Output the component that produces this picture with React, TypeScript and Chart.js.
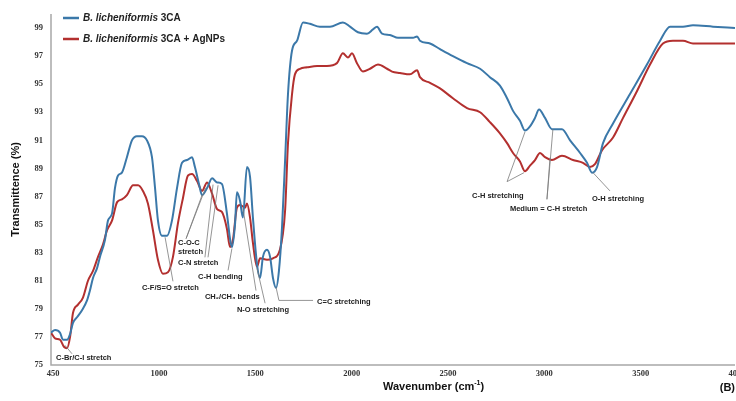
import { useEffect, useRef } from "react";
import { Chart, registerables } from "chart.js";

Chart.register(...registerables);

const seriesNames = ["B. licheniformis 3CA", "B. licheniformis 3CA + AgNPs"];
const seriesColors = ["#3b78a9", "#b3302f"];

const blueWavenumbers = [450, 471, 497, 512, 533, 549, 564, 585, 611, 637, 652, 668, 689, 704, 730, 746, 767, 782, 798, 818, 844, 870, 896, 922, 948, 974, 990, 1005, 1026, 1052, 1078, 1104, 1130, 1156, 1182, 1197, 1218, 1234, 1260, 1286, 1312, 1337, 1363, 1379, 1389, 1405, 1415, 1431, 1446, 1467, 1483, 1498, 1519, 1535, 1550, 1571, 1587, 1602, 1618, 1633, 1649, 1665, 1680, 1701, 1727, 1758, 1794, 1846, 1898, 1965, 2002, 2043, 2090, 2121, 2142, 2168, 2209, 2251, 2298, 2329, 2350, 2365, 2417, 2469, 2536, 2609, 2677, 2728, 2780, 2817, 2848, 2884, 2910, 2936, 2962, 2983, 3014, 3050, 3102, 3144, 3196, 3232, 3258, 3284, 3315, 3367, 3455, 3543, 3611, 3663, 3730, 3782, 3886, 4000];
const blueValues = [77.3, 77.5, 77.3, 76.8, 76.8, 77.2, 78.0, 78.4, 78.9, 79.6, 80.3, 81.2, 81.9, 82.7, 83.9, 85.3, 85.8, 87.6, 88.5, 88.7, 89.8, 91.0, 91.3, 91.3, 91.0, 89.8, 87.6, 85.3, 84.2, 84.2, 85.3, 87.6, 89.4, 89.6, 89.8, 89.1, 87.9, 87.1, 87.6, 88.3, 88.0, 87.9, 85.8, 84.0, 83.4, 85.0, 87.3, 86.7, 85.5, 89.1, 88.4, 85.5, 82.2, 81.2, 82.7, 83.2, 82.7, 81.2, 80.5, 81.7, 84.8, 89.6, 94.3, 97.4, 98.1, 99.4, 99.3, 99.1, 99.1, 99.4, 99.1, 98.7, 98.6, 98.9, 99.1, 98.6, 98.5, 98.3, 98.3, 98.3, 98.4, 98.1, 97.9, 97.5, 97.0, 96.5, 96.1, 95.5, 94.9, 94.0, 93.1, 92.4, 91.7, 92.0, 92.6, 93.2, 92.6, 91.8, 91.8, 91.0, 90.1, 89.4, 88.7, 89.1, 90.8, 92.2, 94.3, 96.4, 98.1, 99.1, 99.1, 99.2, 99.1, 99.0];

const redWavenumbers = [450, 471, 497, 517, 533, 549, 564, 590, 616, 642, 668, 694, 720, 741, 767, 793, 818, 844, 876, 902, 927, 953, 979, 1005, 1031, 1057, 1083, 1109, 1135, 1161, 1182, 1208, 1234, 1260, 1286, 1312, 1337, 1363, 1379, 1394, 1415, 1431, 1457, 1467, 1483, 1498, 1519, 1535, 1571, 1602, 1638, 1665, 1680, 1701, 1716, 1742, 1779, 1831, 1882, 1934, 1965, 1991, 2012, 2038, 2069, 2106, 2147, 2194, 2220, 2261, 2313, 2350, 2365, 2417, 2469, 2536, 2609, 2677, 2728, 2780, 2817, 2848, 2884, 2910, 2936, 2962, 2988, 3014, 3050, 3102, 3159, 3211, 3247, 3273, 3310, 3367, 3419, 3491, 3559, 3626, 3678, 3730, 3782, 3855, 3922, 4000];
const redValues = [77.3, 76.9, 76.8, 76.3, 76.2, 77.0, 78.7, 79.3, 79.8, 81.0, 81.7, 82.7, 83.6, 84.6, 85.3, 86.6, 86.8, 87.1, 87.8, 87.8, 87.4, 86.5, 84.6, 82.5, 81.5, 81.6, 82.7, 85.1, 86.9, 88.5, 88.6, 88.1, 87.4, 88.0, 87.2, 86.1, 85.9, 84.7, 83.4, 83.9, 86.2, 86.4, 86.2, 86.5, 85.5, 83.7, 82.0, 82.6, 82.5, 82.6, 83.2, 86.0, 90.8, 94.3, 95.7, 96.1, 96.2, 96.3, 96.3, 96.5, 97.2, 96.9, 97.2, 96.5, 95.9, 96.1, 96.4, 96.1, 95.9, 95.8, 95.7, 96.0, 95.5, 95.1, 94.7, 94.0, 93.3, 93.0, 92.3, 91.5, 90.8, 90.1, 89.5, 88.8, 89.2, 89.6, 90.1, 89.8, 89.6, 89.9, 89.6, 89.4, 89.1, 89.3, 90.3, 91.2, 92.6, 94.5, 96.4, 97.9, 98.1, 98.1, 97.9, 97.9, 97.9, 97.9];

const xTickLabels = [450, 1000, 1500, 2000, 2500, 3000, 3500, 4000];
const yTickLabels = [75, 77, 79, 81, 83, 85, 87, 89, 91, 93, 95, 97, 99];

const xTitle = "Wavenumber (cm";
const xTitleSup = "-1";
const yTitle = "Transmittence (%)";
const panelLabel = "(B)";

const annotationLabels = [
  "C-Br/C-I stretch",
  "C-F/S=O stretch",
  "C-O-C\nstretch",
  "C-N stretch",
  "C-H bending",
  "CH\u2082/CH\u2083 bends",
  "N-O stretching",
  "C=C stretching",
  "C-H stretching",
  "Medium = C-H stretch",
  "O-H stretching",
];
const annotationAnchors: [number, number][] = [
  [476, 75.5], [922, 80.5], [1109, 83.66], [1109, 82.24], [1213, 81.25], [1249, 79.83],
  [1415, 78.9], [1831, 79.5], [2635, 87.07], [2832, 86.15], [3258, 86.86],
];
const annotationLeaders: [number, number][][][] = [
  [[[559, 75.8], [523, 76.4]]],
  [[[1083, 80.96], [1042, 84.1]]],
  [[[1151, 84.0], [1234, 87.1]], [[1151, 84.0], [1252, 87.6]]],
  [[[1249, 82.67], [1291, 87.85]], [[1265, 82.67], [1317, 87.8]]],
  [[[1369, 81.74], [1389, 83.3]]],
  [[[1514, 80.3], [1446, 86.2]]],
  [[[1561, 79.4], [1519, 81.9]]],
  [[[1618, 80.54], [1633, 79.6], [1810, 79.6]]],
  [[[2817, 88.06], [2910, 91.6]], [[2817, 88.06], [2905, 88.7]]],
  [[[3024, 86.8], [3055, 91.8]], [[3024, 86.8], [3040, 89.77]]],
  [[[3351, 87.4], [3263, 88.7]]],
];

const SANS = '"Liberation Sans", Arial, sans-serif';
const SERIF = '"Liberation Serif", "Times New Roman", serif';

const overlayPlugin = {
  id: "overlay",
  beforeDatasetsDraw(chart: any) {
    const { ctx, chartArea, scales } = chart;
    const { left, right, top, bottom } = chartArea;
    const x = scales.x;
    const y = scales.y;
    ctx.save();
    ctx.strokeStyle = "#a8a8a8";
    ctx.lineWidth = 1.5;
    ctx.beginPath();
    ctx.moveTo(left, top);
    ctx.lineTo(left, bottom);
    ctx.lineTo(right, bottom);
    ctx.stroke();

    ctx.fillStyle = "#333";
    ctx.font = `bold 8.5px ${SERIF}`;
    ctx.textAlign = "right";
    ctx.textBaseline = "middle";
    yTickLabels.forEach((v) => ctx.fillText(String(v), left - 8, y.getPixelForValue(v)));
    ctx.textAlign = "center";
    xTickLabels.forEach((v) => ctx.fillText(String(v), x.getPixelForValue(v) + 2, bottom + 9));
    ctx.restore();
  },
  afterDatasetsDraw(chart: any) {
    const { ctx, chartArea, scales } = chart;
    const { top, bottom } = chartArea;
    const x = scales.x;
    const y = scales.y;
    ctx.save();

    // annotations
    ctx.strokeStyle = "#7a7a7a";
    ctx.lineWidth = 0.8;
    annotationLeaders.forEach((lines) => {
      lines.forEach((pts) => {
        ctx.beginPath();
        pts.forEach(([wx, wy], i) => {
          const px = x.getPixelForValue(wx);
          const py = y.getPixelForValue(wy);
          if (i === 0) ctx.moveTo(px, py);
          else ctx.lineTo(px, py);
        });
        ctx.stroke();
      });
    });
    ctx.fillStyle = "#222";
    ctx.font = `bold 7.5px ${SANS}`;
    ctx.textAlign = "left";
    ctx.textBaseline = "middle";
    annotationLabels.forEach((label, i) => {
      const [wx, wy] = annotationAnchors[i];
      const px = x.getPixelForValue(wx);
      const py = y.getPixelForValue(wy);
      label.split("\n").forEach((line, j) => ctx.fillText(line, px, py + j * 9));
    });

    // legend
    const legendY = [18, 39];
    const suffixes = [" 3CA", " 3CA + AgNPs"];
    seriesNames.forEach((_, i) => {
      ctx.strokeStyle = seriesColors[i];
      ctx.lineWidth = 2.5;
      ctx.beginPath();
      ctx.moveTo(63, legendY[i]);
      ctx.lineTo(79, legendY[i]);
      ctx.stroke();
      ctx.fillStyle = "#222";
      ctx.font = `italic bold 10px ${SANS}`;
      const it = "B. licheniformis";
      ctx.fillText(it, 83, legendY[i]);
      const w = ctx.measureText(it).width;
      ctx.font = `bold 10px ${SANS}`;
      ctx.fillText(suffixes[i], 83 + w, legendY[i]);
    });

    // axis titles
    ctx.fillStyle = "#111";
    ctx.font = `bold 11px ${SANS}`;
    ctx.textAlign = "left";
    ctx.fillText(xTitle, 383, 387);
    const tw = ctx.measureText(xTitle).width;
    ctx.font = `bold 7px ${SANS}`;
    ctx.fillText(xTitleSup, 383 + tw, 383);
    const sw = ctx.measureText(xTitleSup).width;
    ctx.font = `bold 11px ${SANS}`;
    ctx.fillText(")", 383 + tw + sw, 387);
    ctx.textAlign = "right";
    ctx.fillText(panelLabel, 735, 388);

    ctx.save();
    ctx.translate(16, (top + bottom) / 2);
    ctx.rotate(-Math.PI / 2);
    ctx.textAlign = "center";
    ctx.fillText(yTitle, 0, 0);
    ctx.restore();

    ctx.restore();
  },
};

export default function App() {
  const canvasRef = useRef<HTMLCanvasElement | null>(null);

  useEffect(() => {
    document.body.style.margin = "0";
    const canvas = canvasRef.current;
    if (!canvas) return;
    const chart = new Chart(canvas, {
      type: "line",
      data: {
        datasets: [
          {
            label: seriesNames[0],
            data: blueWavenumbers.map((w, i) => ({ x: w, y: blueValues[i] })),
            borderColor: seriesColors[0],
            borderWidth: 2,
            pointRadius: 0,
            cubicInterpolationMode: "monotone",
          },
          {
            label: seriesNames[1],
            data: redWavenumbers.map((w, i) => ({ x: w, y: redValues[i] })),
            borderColor: seriesColors[1],
            borderWidth: 2,
            pointRadius: 0,
            cubicInterpolationMode: "monotone",
          },
        ],
      },
      options: {
        animation: false,
        responsive: false,
        devicePixelRatio: 1,
        layout: { padding: { left: 51, top: 14, right: 1, bottom: 36 } },
        plugins: { legend: { display: false }, tooltip: { enabled: false } },
        scales: {
          x: { type: "linear", min: 450, max: 4000, display: false },
          y: { type: "linear", min: 75, max: 100, display: false },
        },
      },
      plugins: [overlayPlugin],
    });
    return () => chart.destroy();
  }, []);

  return (
    <div style={{ position: "absolute", left: 0, top: 0, width: 736, height: 401, background: "#fff" }}>
      <canvas ref={canvasRef} width={736} height={401} />
    </div>
  );
}
